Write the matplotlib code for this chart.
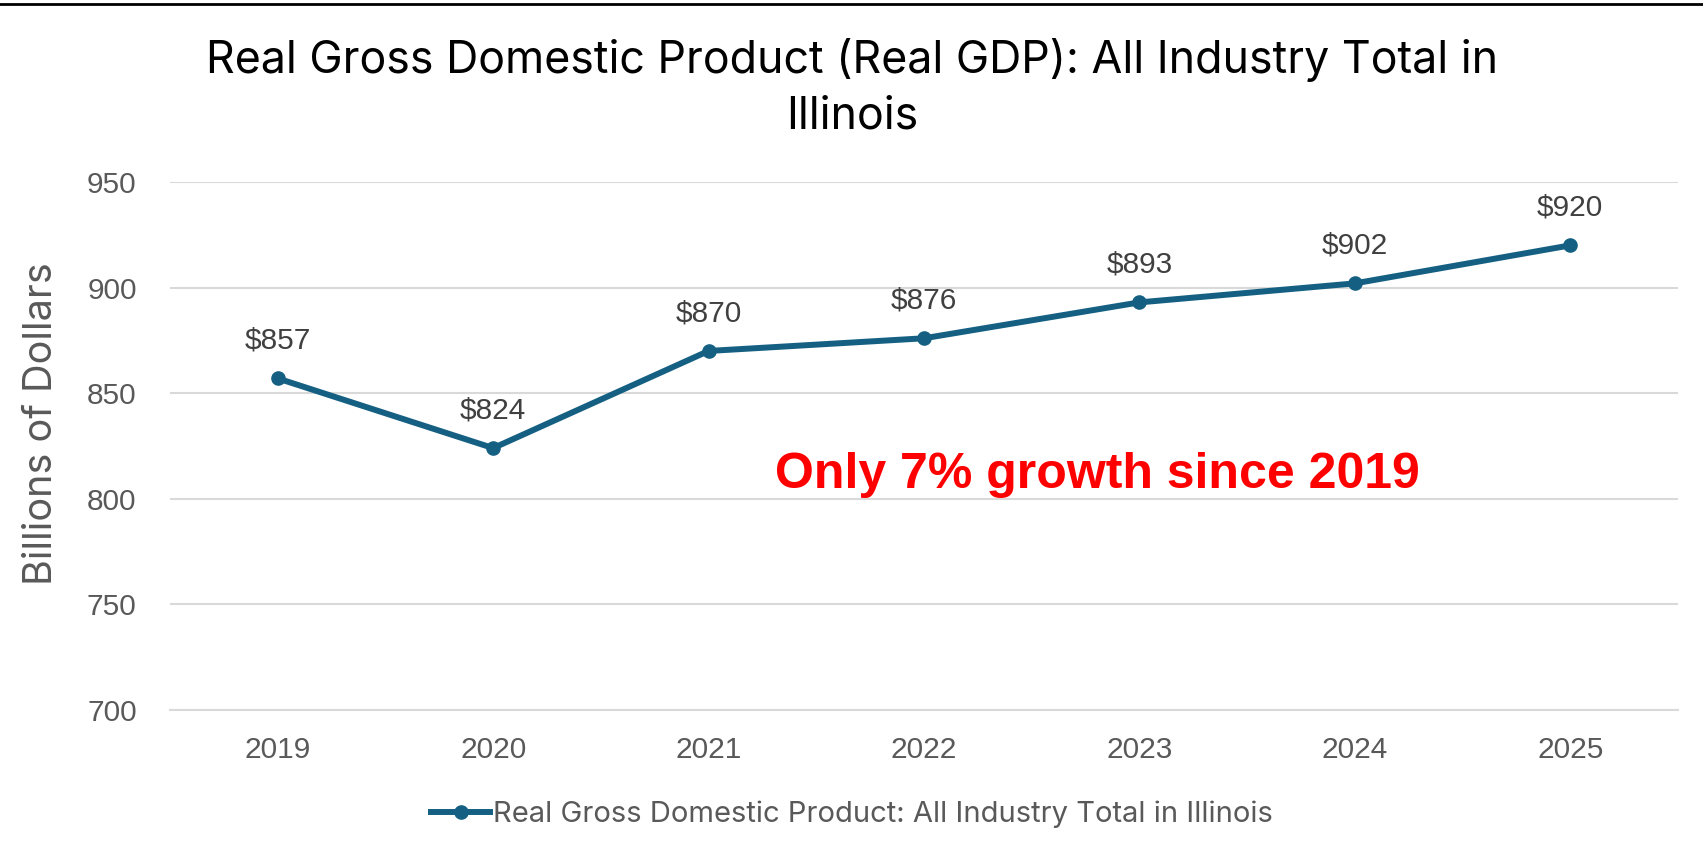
import matplotlib
matplotlib.use("Agg")
import matplotlib.pyplot as plt
from matplotlib.lines import Line2D

years = ["2019", "2020", "2021", "2022", "2023", "2024", "2025"]
gdp = [857, 824, 870, 876, 893, 902, 920]
yticks = [700, 750, 800, 850, 900, 950]
title = "Real Gross Domestic Product (Real GDP): All Industry Total in\nIllinois"
ylabel = "Billions of Dollars"
series_name = "Real Gross Domestic Product: All Industry Total in Illinois"
note = "Only 7% growth since 2019"

W, H = 1703, 856
fig = plt.figure(figsize=(W / 100, H / 100), dpi=100)
ax = fig.add_axes([170 / W, 1 - 710 / H, (1678 - 170) / W, (710 - 182) / H])

line_color = "#156082"
x = list(range(len(years)))
ax.plot(x, gdp, color=line_color, lw=4.3, marker="o", markersize=9.5,
        solid_capstyle="round", zorder=3, label=series_name)

for xi, v in zip(x, gdp):
    ax.annotate(f"${v}", (xi, v), xytext=(0, 27), textcoords="offset points",
                ha="center", va="center", fontsize=21.5,
                family="Liberation Sans", color="#404040")

ax.set_xlim(-0.5, len(years) - 0.5)
ax.set_ylim(700, 950)
ax.set_xticks(x)
ax.set_xticklabels(years, family="Liberation Sans", fontsize=21.5, color="#595959")
ax.set_yticks(yticks)
ax.set_yticklabels([str(t) for t in yticks], family="Liberation Sans",
                   fontsize=21.5, color="#595959")
ax.tick_params(length=0)
ax.tick_params(axis="x", pad=19)
ax.tick_params(axis="y", pad=24)
ax.grid(axis="y", color="#d9d9d9", lw=1.5)
ax.set_axisbelow(True)
for s in ["top", "right", "left"]:
    ax.spines[s].set_visible(False)
ax.spines["bottom"].set_color("#d9d9d9")
ax.spines["bottom"].set_linewidth(1.5)

fig.text(42 / W, 1 - 424 / H, ylabel, rotation=90, ha="center", va="center",
         family="Inter", fontsize=28.5, color="#595959")

fig.text(852 / W, 1 - 88 / H, title, ha="center", va="center",
         family="Inter", fontsize=32.2, color="black", linespacing=1.42)

ax.text(1097 / W, 1 - 475 / H, note, transform=fig.transFigure,
        ha="center", va="center", family="Liberation Sans", fontweight="bold",
        fontsize=36, color="#ff0000")

leg = fig.legend(handles=[Line2D([], [], color=line_color, lw=4.3, marker="o",
                                 markersize=9.5)],
                 labels=[series_name], loc="center", bbox_to_anchor=(852 / W, 1 - 814 / H),
                 frameon=False, handlelength=2.0, handletextpad=0.1,
                 prop={"family": "Inter", "size": 21})
for t in leg.get_texts():
    t.set_color("#595959")

fig.add_artist(Line2D([0, 1], [1 - 4 / H, 1 - 4 / H], transform=fig.transFigure,
                      color="black", lw=2))

fig.savefig("out.png", dpi=100, facecolor="white")
